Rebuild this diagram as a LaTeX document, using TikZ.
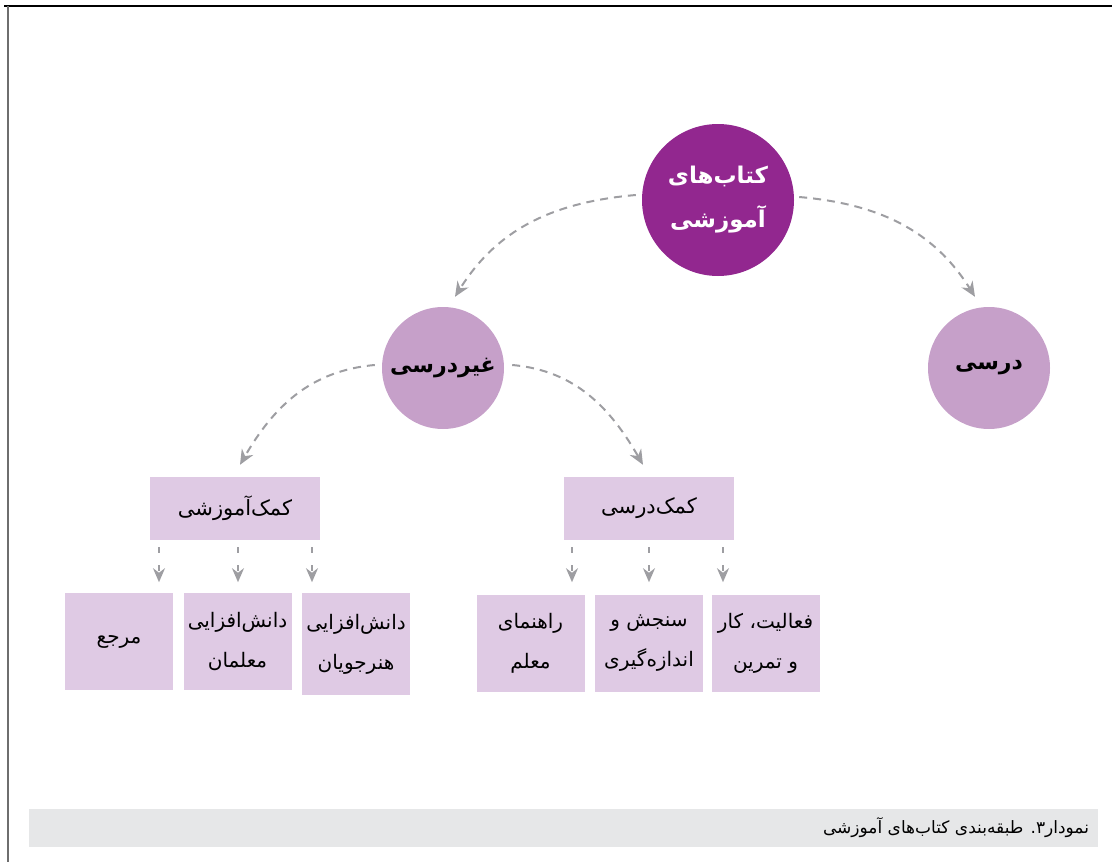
\documentclass[tikz,border=0pt]{standalone}
\usepackage{fontspec}
\newfontfamily\fa[Script=Arabic]{DejaVu Sans}
\TeXXeTstate=1
\usetikzlibrary{arrows.meta}
\definecolor{cpurple}{RGB}{146,39,143}
\definecolor{cmid}{RGB}{198,160,201}
\definecolor{clight}{RGB}{223,202,228}
\definecolor{cgray}{RGB}{158,158,162}
\definecolor{cband}{RGB}{230,231,232}
\definecolor{cframe}{RGB}{110,110,110}
\begin{document}
\begin{tikzpicture}[x=1pt,y=-1pt,
 topc/.style={circle, fill=cpurple, minimum size=152pt, inner sep=0pt, text=white, align=center, font=\fa\bfseries\fontsize{23}{44}\selectfont},
 midc/.style={circle, fill=cmid, minimum size=122pt, inner sep=0pt, font=\fa\bfseries\fontsize{22}{28}\selectfont},
 catbox/.style={rectangle, fill=clight, minimum width=170pt, minimum height=63pt, inner sep=0pt, font=\fa\fontsize{21}{26}\selectfont},
 leafbox/.style={rectangle, fill=clight, minimum width=108pt, minimum height=97pt, inner sep=0pt, align=center, font=\fa\fontsize{20}{40}\selectfont},
 carrow/.style={draw=cgray, line width=2pt, dash pattern=on 8pt off 6pt, -{Stealth[length=15pt,width=13pt]}},
 varrow/.style={draw=cgray, line width=2pt, dash pattern=on 6pt off 12pt, -{Stealth[length=14pt,width=12pt]}},
 captxt/.style={font=\fa\fontsize{17}{20}\selectfont, inner sep=0pt}
]
\useasboundingbox (0,0) rectangle (1112,862);
% frame
\draw[black, line width=1.2pt] (4,6) -- (1112,6);
\draw[cframe, line width=2pt] (8,6) -- (8,862);
% nodes
\node[topc] (tc) at (718,200) {\beginR کتاب‌های\endR\\\beginR آموزشی\endR};
\node[midc] (gd) at (443,368) {\beginR غیردرسی\endR};
\node[midc] (dr) at (989,368) {\beginR درسی\endR};
\node[catbox] (ka) at (235,508.5) {\beginR کمک‌آموزشی\endR};
\node[catbox] (kd) at (649,508.5) {\beginR کمک‌درسی\endR};
\node[leafbox] (l1) at (119,641.5) {\beginR مرجع\endR};
\node[leafbox] (l2) at (237.5,641.5) {\beginR دانش‌افزایی\endR\\\beginR معلمان\endR};
\node[leafbox, minimum height=102pt] (l3) at (356,644) {\beginR دانش‌افزایی\endR\\\beginR هنرجویان\endR};
\node[leafbox] (r1) at (530.5,643.5) {\beginR راهنمای\endR\\\beginR معلم\endR};
\node[leafbox] (r2) at (649,643.5) {\beginR سنجش و\endR\\\beginR اندازه‌گیری\endR};
\node[leafbox] (r3) at (765.5,643.5) {\beginR فعالیت، کار\endR\\\beginR و تمرین\endR};
% caption
\node[fill=cband, minimum width=1069pt, minimum height=38pt, inner sep=0pt] (band) at (563.5,828) {};
\node[captxt, anchor=east] (cap) at ([xshift=-9pt]band.east) {\beginR نمودار۳. طبقه‌بندی کتاب‌های آموزشی\endR};
% curved connectors
\draw[carrow] ([xshift=-6pt,yshift=5pt]tc.west) to[out=185,in=58] ([xshift=12pt,yshift=10pt]gd.north);
\draw[carrow] ([xshift=5pt,yshift=3pt]tc.east) to[out=-5,in=122] ([xshift=-14pt,yshift=10pt]dr.north);
\draw[carrow] ([xshift=-7pt,yshift=3pt]gd.west) to[out=185,in=60] ([xshift=5pt,yshift=12pt]ka.north);
\draw[carrow] ([xshift=8pt,yshift=3pt]gd.east) to[out=-5,in=120] ([xshift=-6pt,yshift=12pt]kd.north);
% short connectors
\foreach \s/\t in {-76/l1,3/l2,77/l3}{
  \draw[varrow] ([xshift=\s pt,yshift=-7pt]ka.south) -- ([xshift=\s pt,yshift=-42pt]ka.south);
}
\foreach \s/\t in {-77/r1,0/r2,74/r3}{
  \draw[varrow] ([xshift=\s pt,yshift=-7pt]kd.south) -- ([xshift=\s pt,yshift=-42pt]kd.south);
}
\end{tikzpicture}
\end{document}
